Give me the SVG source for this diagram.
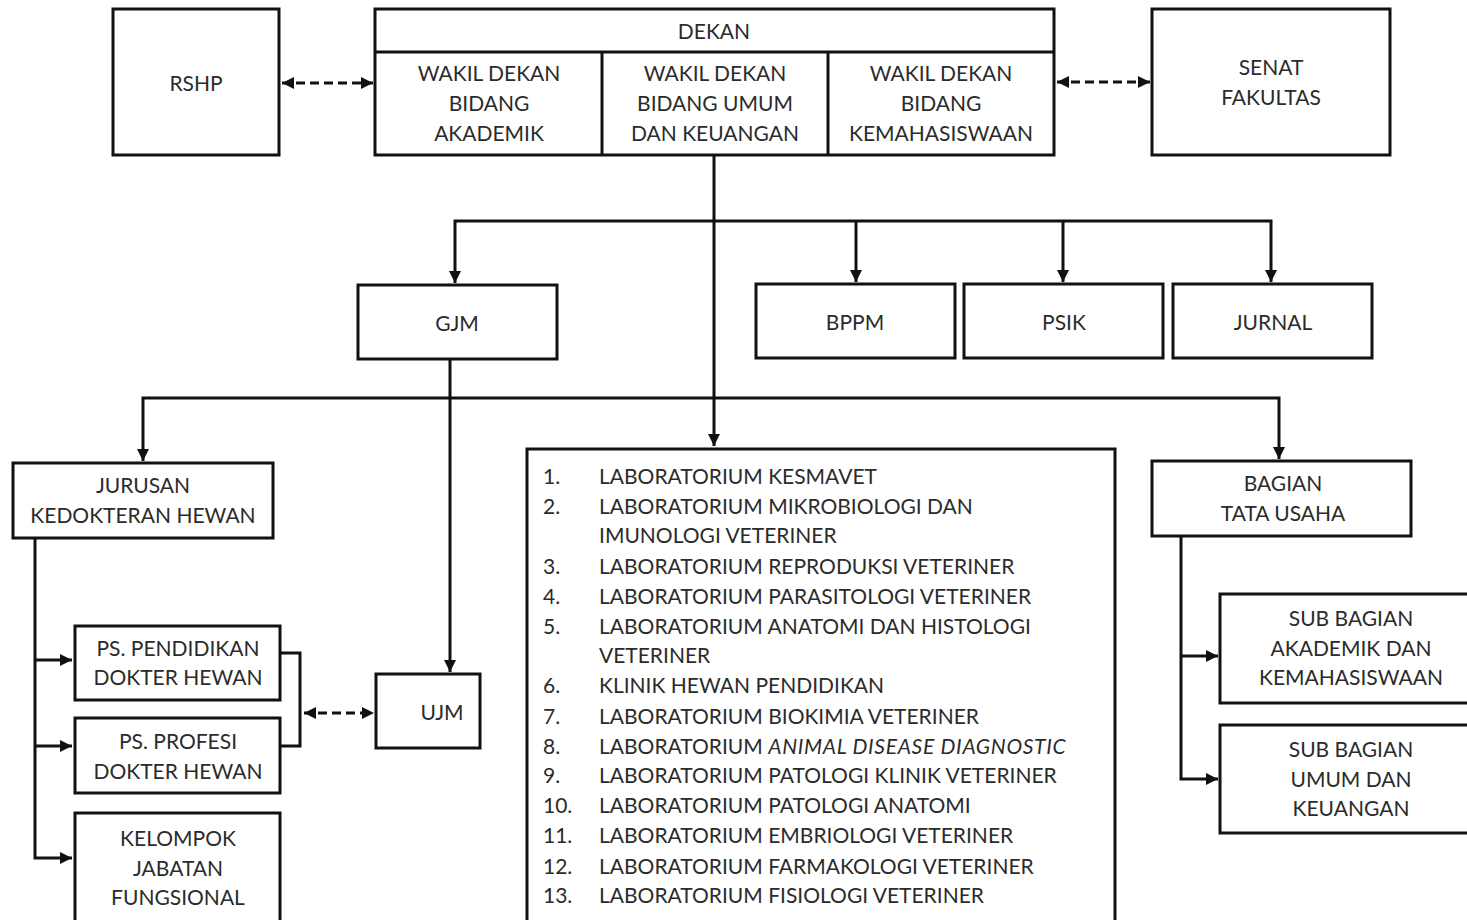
<svg xmlns="http://www.w3.org/2000/svg" width="1467" height="920" viewBox="0 0 1467 920">
<style>
.box{fill:#fff;stroke:#111;stroke-width:3}
.ln{fill:none;stroke:#111;stroke-width:3}
.dash{fill:none;stroke:#111;stroke-width:3;stroke-dasharray:9 5}
text{font-family:Lato,"Open Sans",sans-serif;font-size:21px;fill:#2b2b2b}
.c{text-anchor:middle}
</style>
<defs>
<marker id="ah" viewBox="0 0 10 10" refX="10" refY="5" markerWidth="4" markerHeight="4" orient="auto-start-reverse" markerUnits="strokeWidth">
<path d="M0,0 L10,5 L0,10 z" fill="#111"/>
</marker>
</defs>
<rect width="1467" height="920" fill="#fff"/>
<g id="connectors">
<line class="dash" x1="282" y1="83" x2="373" y2="83" marker-start="url(#ah)" marker-end="url(#ah)"/>
<line class="dash" x1="1057" y1="82" x2="1150" y2="82" marker-start="url(#ah)" marker-end="url(#ah)"/>
<line class="ln" x1="714" y1="155" x2="714" y2="446" marker-end="url(#ah)"/>
<polyline class="ln" points="455,283 455,221 1271,221 1271,282" marker-start="url(#ah)" marker-end="url(#ah)"/>
<line class="ln" x1="856" y1="221" x2="856" y2="282" marker-end="url(#ah)"/>
<line class="ln" x1="1063" y1="221" x2="1063" y2="282" marker-end="url(#ah)"/>
<line class="ln" x1="450" y1="359" x2="450" y2="672" marker-end="url(#ah)"/>
<polyline class="ln" points="143,461 143,398 1279,398 1279,459" marker-start="url(#ah)" marker-end="url(#ah)"/>
<polyline class="ln" points="35,538 35,858 72,858" marker-end="url(#ah)"/>
<line class="ln" x1="35" y1="660" x2="72" y2="660" marker-end="url(#ah)"/>
<line class="ln" x1="35" y1="746" x2="72" y2="746" marker-end="url(#ah)"/>
<polyline class="ln" points="280,653 300,653 300,746 280,746"/>
<line class="dash" x1="304" y1="713" x2="374" y2="713" marker-start="url(#ah)" marker-end="url(#ah)"/>
<polyline class="ln" points="1181,536 1181,779 1218,779" marker-end="url(#ah)"/>
<line class="ln" x1="1181" y1="656" x2="1218" y2="656" marker-end="url(#ah)"/>
</g>
<g id="rshp"><rect class="box" x="113" y="9" width="166" height="146"/><text class="c" x="196" y="91">RSHP</text></g>
<g id="dekan">
<rect class="box" x="375" y="9" width="679" height="146"/>
<line class="ln" x1="375" y1="52" x2="1054" y2="52"/>
<line class="ln" x1="602" y1="52" x2="602" y2="155"/>
<line class="ln" x1="828" y1="52" x2="828" y2="155"/>
<text class="c" x="714" y="39">DEKAN</text>
<text class="c" x="489" y="81">WAKIL DEKAN</text><text class="c" x="489" y="111">BIDANG</text><text class="c" x="489" y="141">AKADEMIK</text>
<text class="c" x="715" y="81">WAKIL DEKAN</text><text class="c" x="715" y="111">BIDANG UMUM</text><text class="c" x="715" y="141">DAN KEUANGAN</text>
<text class="c" x="941" y="81">WAKIL DEKAN</text><text class="c" x="941" y="111">BIDANG</text><text class="c" x="941" y="141">KEMAHASISWAAN</text>
</g>
<g id="senat"><rect class="box" x="1152" y="9" width="238" height="146"/><text class="c" x="1271" y="75">SENAT</text><text class="c" x="1271" y="105">FAKULTAS</text></g>
<g id="gjm"><rect class="box" x="358" y="285" width="199" height="74"/><text class="c" x="457" y="331">GJM</text></g>
<g id="bppm"><rect class="box" x="756" y="284" width="199" height="74"/><text class="c" x="855" y="330">BPPM</text></g>
<g id="psik"><rect class="box" x="964" y="284" width="199" height="74"/><text class="c" x="1064" y="330">PSIK</text></g>
<g id="jurnal"><rect class="box" x="1173" y="284" width="199" height="74"/><text class="c" x="1273" y="330">JURNAL</text></g>
<g id="jurusan"><rect class="box" x="13" y="463" width="260" height="75"/><text class="c" x="143" y="493">JURUSAN</text><text class="c" x="143" y="523">KEDOKTERAN HEWAN</text></g>
<g id="ps-pendidikan"><rect class="box" x="75" y="626" width="205" height="74"/><text class="c" x="178" y="656">PS. PENDIDIKAN</text><text class="c" x="178" y="685">DOKTER HEWAN</text></g>
<g id="ps-profesi"><rect class="box" x="75" y="718" width="205" height="75"/><text class="c" x="178" y="749">PS. PROFESI</text><text class="c" x="178" y="779">DOKTER HEWAN</text></g>
<g id="kelompok"><rect class="box" x="75" y="813" width="205" height="120"/><text class="c" x="178" y="846">KELOMPOK</text><text class="c" x="178" y="876">JABATAN</text><text class="c" x="178" y="905">FUNGSIONAL</text></g>
<g id="ujm"><rect class="box" x="376" y="674" width="104" height="74"/><text class="c" x="442" y="720">UJM</text></g>
<g id="lab">
<rect class="box" x="527" y="449" width="588" height="490"/>
<text x="543" y="484">1.</text><text x="599" y="484">LABORATORIUM KESMAVET</text>
<text x="543" y="514">2.</text><text x="599" y="514">LABORATORIUM MIKROBIOLOGI DAN</text>
<text x="599" y="543">IMUNOLOGI VETERINER</text>
<text x="543" y="574">3.</text><text x="599" y="574">LABORATORIUM REPRODUKSI VETERINER</text>
<text x="543" y="604">4.</text><text x="599" y="604">LABORATORIUM PARASITOLOGI VETERINER</text>
<text x="543" y="634">5.</text><text x="599" y="634">LABORATORIUM ANATOMI DAN HISTOLOGI</text>
<text x="599" y="663">VETERINER</text>
<text x="543" y="693">6.</text><text x="599" y="693">KLINIK HEWAN PENDIDIKAN</text>
<text x="543" y="724">7.</text><text x="599" y="724">LABORATORIUM BIOKIMIA VETERINER</text>
<text x="543" y="754">8.</text><text x="599" y="754">LABORATORIUM <tspan font-style="italic" letter-spacing="0.7">ANIMAL DISEASE DIAGNOSTIC</tspan></text>
<text x="543" y="783">9.</text><text x="599" y="783">LABORATORIUM PATOLOGI KLINIK VETERINER</text>
<text x="543" y="813">10.</text><text x="599" y="813">LABORATORIUM PATOLOGI ANATOMI</text>
<text x="543" y="843">11.</text><text x="599" y="843">LABORATORIUM EMBRIOLOGI VETERINER</text>
<text x="543" y="874">12.</text><text x="599" y="874">LABORATORIUM FARMAKOLOGI VETERINER</text>
<text x="543" y="903">13.</text><text x="599" y="903">LABORATORIUM FISIOLOGI VETERINER</text>
</g>
<g id="bagian"><rect class="box" x="1152" y="461" width="259" height="75"/><text class="c" x="1283" y="491">BAGIAN</text><text class="c" x="1283" y="521">TATA USAHA</text></g>
<g id="sub-akademik"><rect class="box" x="1220" y="594" width="260" height="109"/><text class="c" x="1351" y="626">SUB BAGIAN</text><text class="c" x="1351" y="656">AKADEMIK DAN</text><text class="c" x="1351" y="685">KEMAHASISWAAN</text></g>
<g id="sub-umum"><rect class="box" x="1220" y="725" width="260" height="108"/><text class="c" x="1351" y="757">SUB BAGIAN</text><text class="c" x="1351" y="787">UMUM DAN</text><text class="c" x="1351" y="816">KEUANGAN</text></g>
</svg>
